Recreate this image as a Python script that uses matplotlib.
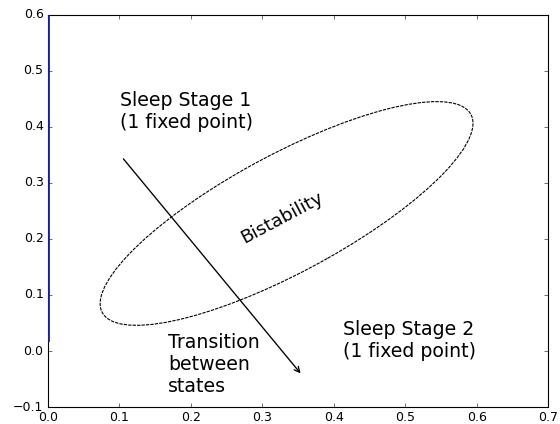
import numpy as np
import matplotlib
matplotlib.use("Agg")
import matplotlib.pyplot as plt
from matplotlib.patches import Ellipse

plt.style.use('classic')

# bistability region (ellipse in data units)
ell_center = (0.334, 0.2455)
ell_width = 0.627
ell_height = 0.197
ell_angle = 35.7

# blue trace along y axis
line_x = [0.0, 0.0]
line_y = [0.02, 0.6]

# transition arrow
arrow_start = (0.1036, 0.346)
arrow_end = (0.3556, -0.043)

fig = plt.figure(figsize=(7, 5.3), dpi=80, facecolor='white')
ax = fig.add_axes([0.0857, 0.040, 0.8929, 0.925])

ax.plot(line_x, line_y, color='#1c1c9c', lw=2.5, zorder=5)

e = Ellipse(ell_center, ell_width, ell_height, angle=ell_angle,
            fill=False, edgecolor='black', lw=1.0, linestyle=(0, (3, 1)))
ax.add_patch(e)

ax.annotate('', xy=arrow_end, xytext=arrow_start,
            arrowprops=dict(arrowstyle='->', color='black', lw=1.2))

ax.text(0.1008, 0.464, 'Sleep Stage 1\n(1 fixed point)', fontsize=17, va='top', ha='left')
ax.text(0.4123, 0.055, 'Sleep Stage 2\n(1 fixed point)', fontsize=17, va='top', ha='left')
ax.text(0.168, 0.033, 'Transition\nbetween\nstates', fontsize=17, va='top', ha='left')
ax.text(0.3276, 0.2375, 'Bistability', fontsize=16.5, rotation=28, ha='center', va='center')

ax.set_xlim(0, 0.7)
ax.set_ylim(-0.1, 0.6)
ax.set_xticks(np.arange(0, 0.71, 0.1))
ax.set_yticks(np.arange(-0.1, 0.61, 0.1))
ax.tick_params(labelsize=11.3)

fig.savefig('out.png', dpi=80, facecolor='white')
